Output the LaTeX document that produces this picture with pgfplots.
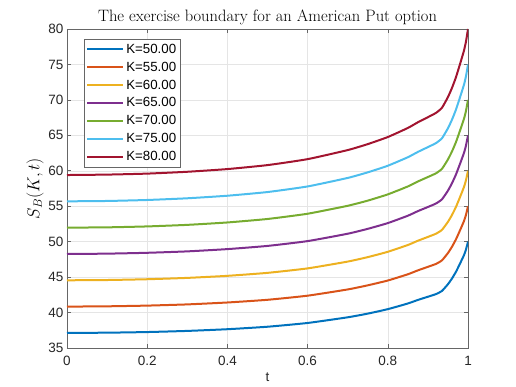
\documentclass[border=0pt]{standalone}
\usepackage{fontspec}
\usepackage{pgfplots}
\pgfplotsset{compat=1.18}
\newfontfamily\helv{Liberation Sans}

\definecolor{c1}{rgb}{0,0.447,0.741}
\definecolor{c2}{rgb}{0.85,0.325,0.098}
\definecolor{c3}{rgb}{0.929,0.694,0.125}
\definecolor{c4}{rgb}{0.494,0.184,0.556}
\definecolor{c5}{rgb}{0.466,0.674,0.188}
\definecolor{c6}{rgb}{0.301,0.745,0.933}
\definecolor{c7}{rgb}{0.635,0.078,0.184}

\begin{document}
\begin{tikzpicture}
\begin{axis}[
    scale only axis,
    width=401pt, height=319pt,
    xmin=0, xmax=1, ymin=35, ymax=80,
    xtick={0,0.2,...,1}, ytick={35,40,...,80},
    grid=major,
    major grid style={black!10, line width=0.5pt},
    axis line style={black!60, line width=0.6pt},
    tick style={black!60, line width=0.6pt},
    tick align=inside,
    major tick length=4pt,
    /pgf/number format/assume math mode=true,
    tick label style={font=\helv\fontsize{13.5}{15}\selectfont, text=black!85},
    xticklabel style={yshift=-5pt},
    title={The exercise boundary for an American Put option},
    title style={font=\fontsize{16.5}{18}\selectfont, yshift=-5pt},
    xlabel={\helv t},
    xlabel style={font=\fontsize{13.5}{15}\selectfont, text=black!85, yshift=0pt},
    ylabel={$S_B(K,t)$},
    ylabel style={font=\fontsize{18}{20}\selectfont, yshift=-2pt},
    legend cell align=left,
    legend style={at={(0,1)}, anchor=north west, xshift=17pt, yshift=-10pt,
        draw=black!60, line width=0.5pt, font=\helv\fontsize{13.3}{14}\selectfont,
        row sep=3.2pt, inner xsep=2pt, inner ysep=2.5pt},
    legend image code/.code={\draw[#1, line width=2pt] (0pt,0pt) -- (36pt,0pt);},
    every axis plot/.append style={line width=2pt, smooth, tension=0.3},
]
\addplot[c1] coordinates {
(0,37.13) (0.1,37.16) (0.2,37.25) (0.3,37.41) (0.4,37.65) (0.5,38.00)
(0.6,38.53) (0.7,39.33) (0.75,39.85) (0.8,40.48) (0.85,41.28) (0.875,41.78)
(0.9,42.23) (0.92,42.60) (0.935,43.05) (0.95,44.00) (0.96,44.80) (0.97,45.75)
(0.98,46.90) (0.99,48.10) (0.995,48.90) (1,50)};
\addplot[c2] coordinates {
(0,40.84) (0.1,40.88) (0.2,40.98) (0.3,41.15) (0.4,41.42) (0.5,41.80)
(0.6,42.38) (0.7,43.26) (0.75,43.84) (0.8,44.52) (0.85,45.40) (0.875,45.95)
(0.9,46.45) (0.92,46.86) (0.935,47.36) (0.95,48.40) (0.96,49.28) (0.97,50.33)
(0.98,51.59) (0.99,52.91) (0.995,53.79) (1,55)};
\addplot[c3] coordinates {
(0,44.55) (0.1,44.59) (0.2,44.70) (0.3,44.89) (0.4,45.18) (0.5,45.60)
(0.6,46.23) (0.7,47.19) (0.75,47.82) (0.8,48.57) (0.85,49.53) (0.875,50.13)
(0.9,50.67) (0.92,51.12) (0.935,51.66) (0.95,52.80) (0.96,53.76) (0.97,54.90)
(0.98,56.28) (0.99,57.72) (0.995,58.68) (1,60)};
\addplot[c4] coordinates {
(0,48.26) (0.1,48.31) (0.2,48.43) (0.3,48.63) (0.4,48.95) (0.5,49.40)
(0.6,50.08) (0.7,51.12) (0.75,51.81) (0.8,52.62) (0.85,53.66) (0.875,54.31)
(0.9,54.89) (0.92,55.38) (0.935,55.97) (0.95,57.20) (0.96,58.24) (0.97,59.48)
(0.98,60.97) (0.99,62.53) (0.995,63.57) (1,65)};
\addplot[c5] coordinates {
(0,51.98) (0.1,52.02) (0.2,52.15) (0.3,52.37) (0.4,52.71) (0.5,53.20)
(0.6,53.94) (0.7,55.06) (0.75,55.79) (0.8,56.67) (0.85,57.79) (0.875,58.49)
(0.9,59.12) (0.92,59.64) (0.935,60.27) (0.95,61.60) (0.96,62.72) (0.97,64.05)
(0.98,65.66) (0.99,67.34) (0.995,68.46) (1,70)};
\addplot[c6] coordinates {
(0,55.69) (0.1,55.74) (0.2,55.88) (0.3,56.12) (0.4,56.48) (0.5,57.00)
(0.6,57.79) (0.7,58.99) (0.75,59.78) (0.8,60.71) (0.85,61.91) (0.875,62.66)
(0.9,63.34) (0.92,63.90) (0.935,64.58) (0.95,66.00) (0.96,67.20) (0.97,68.63)
(0.98,70.35) (0.99,72.15) (0.995,73.35) (1,75)};
\addplot[c7] coordinates {
(0,59.40) (0.1,59.46) (0.2,59.60) (0.3,59.86) (0.4,60.24) (0.5,60.80)
(0.6,61.64) (0.7,62.92) (0.75,63.76) (0.8,64.76) (0.85,66.04) (0.875,66.84)
(0.9,67.56) (0.92,68.16) (0.935,68.88) (0.95,70.40) (0.96,71.68) (0.97,73.20)
(0.98,75.04) (0.99,76.96) (0.995,78.24) (1,80)};
\legend{K=50.00,K=55.00,K=60.00,K=65.00,K=70.00,K=75.00,K=80.00}
\end{axis}
\path (current axis.south west) ++(-67pt,-39pt) rectangle ([shift={(48pt,29pt)}]current axis.north east);
\end{tikzpicture}
\end{document}
